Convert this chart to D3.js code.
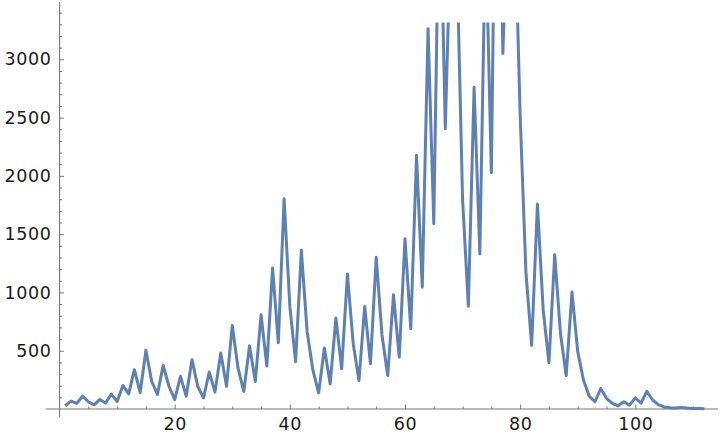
<!DOCTYPE html>
<html>
<head>
<meta charset="utf-8">
<script src="https://cdn.jsdelivr.net/npm/d3@7"></script>
<style>
  body { margin: 0; background: #fff; }
  svg { display: block; }
  .tick text { font-family: "DejaVu Sans", sans-serif; font-size: 17.5px; fill: #1a1a1a; letter-spacing: 0.6px; }
  .tick line { stroke: #777; }
</style>
</head>
<body>
<div id="chart"></div>
<script>
// series values (x = 1 .. n)
const values = [
    28, 68, 48, 110, 62, 36, 82, 52, 128, 64,
    202, 130, 337, 140, 503, 238, 125, 374, 195, 80,
    280, 110, 423, 195, 95, 317, 145, 480, 195, 717,
    350, 150, 543, 235, 809, 368, 1209, 568, 1804, 880,
    407, 1361, 663, 335, 138, 523, 216, 780, 345, 1158,
    563, 244, 880, 388, 1301, 635, 287, 980, 445, 1461,
    688, 2176, 1045, 3263, 1590, 4700, 2405, 4200, 3900, 1800,
    882, 2760, 1331, 4130, 2026, 6000, 3050, 4600, 4350, 2520,
    1175, 545, 1758, 850, 396, 1324, 649, 287, 1003, 492,
    249, 110, 62, 176, 92, 48, 28, 62, 33, 96,
    50, 152, 77, 38, 18, 10, 8, 14, 8, 5,
    4, 2
];
const indices = values.map((d, i) => i + 1);

const xTickLabels = [20, 40, 60, 80, 100];
const xMinorTicks = [5, 10, 15, 25, 30, 35, 45, 50, 55, 65, 70, 75, 85, 90, 95, 105, 110];
const yTickLabels = [500, 1000, 1500, 2000, 2500, 3000];
const yMinorTicks = d3.range(100, 3500, 100).filter(v => v % 500 !== 0);

const width = 720;
const height = 440;
const lineColor = "#5e81b5";
const axisColor = "#777";
const clipTop = 3315;

const x = d3.scaleLinear()
    .domain([20, 100])
    .range([174.7, 635.3]);

const y = d3.scaleLinear()
    .domain([0, 3000])
    .range([409, 59.3]);

const svg = d3.select("#chart").append("svg")
    .attr("width", width)
    .attr("height", height);

// axis lines (plot range padding makes them run past the origin)
svg.append("line")
    .attr("x1", x(-2.4)).attr("x2", 718)
    .attr("y1", y(0)).attr("y2", y(0))
    .attr("stroke", axisColor).attr("stroke-width", 1.1);

svg.append("line")
    .attr("x1", x(0)).attr("x2", x(0))
    .attr("y1", 2).attr("y2", y(-70))
    .attr("stroke", axisColor).attr("stroke-width", 1.1);

// x axis: major + minor ticks pointing up
const xAxis = svg.append("g")
    .attr("transform", "translate(0," + y(0) + ")")
    .call(d3.axisBottom(x).tickValues(xTickLabels).tickSize(-4.5).tickPadding(9).tickFormat(d3.format("d")));
xAxis.select(".domain").remove();
xAxis.selectAll(".tick text").attr("dy", "0.71em");

const xMinor = svg.append("g")
    .attr("transform", "translate(0," + y(0) + ")")
    .call(d3.axisBottom(x).tickValues(xMinorTicks).tickSize(-2.6).tickFormat(""));
xMinor.select(".domain").remove();

// y axis: ticks pointing right, labels on the left
const yAxis = svg.append("g")
    .attr("transform", "translate(" + x(0) + ",0)")
    .call(d3.axisLeft(y).tickValues(yTickLabels).tickSize(-4.5).tickPadding(8).tickFormat(d3.format("d")));
yAxis.select(".domain").remove();

const yMinor = svg.append("g")
    .attr("transform", "translate(" + x(0) + ",0)")
    .call(d3.axisLeft(y).tickValues(yMinorTicks).tickSize(-2.6).tickFormat(""));
yMinor.select(".domain").remove();

svg.selectAll(".tick line").attr("stroke", axisColor).attr("stroke-width", 1);

// clip the series at the top of the plot range
svg.append("clipPath")
    .attr("id", "plot-clip")
    .append("rect")
    .attr("x", 0)
    .attr("y", y(clipTop))
    .attr("width", width)
    .attr("height", height - y(clipTop));

svg.append("path")
    .datum(values)
    .attr("clip-path", "url(#plot-clip)")
    .attr("d", d3.line()
        .x((d, i) => x(indices[i]))
        .y(d => y(d)))
    .attr("fill", "none")
    .attr("stroke", lineColor)
    .attr("stroke-width", 3)
    .attr("stroke-linejoin", "round")
    .attr("stroke-linecap", "butt");
</script>
</body>
</html>
